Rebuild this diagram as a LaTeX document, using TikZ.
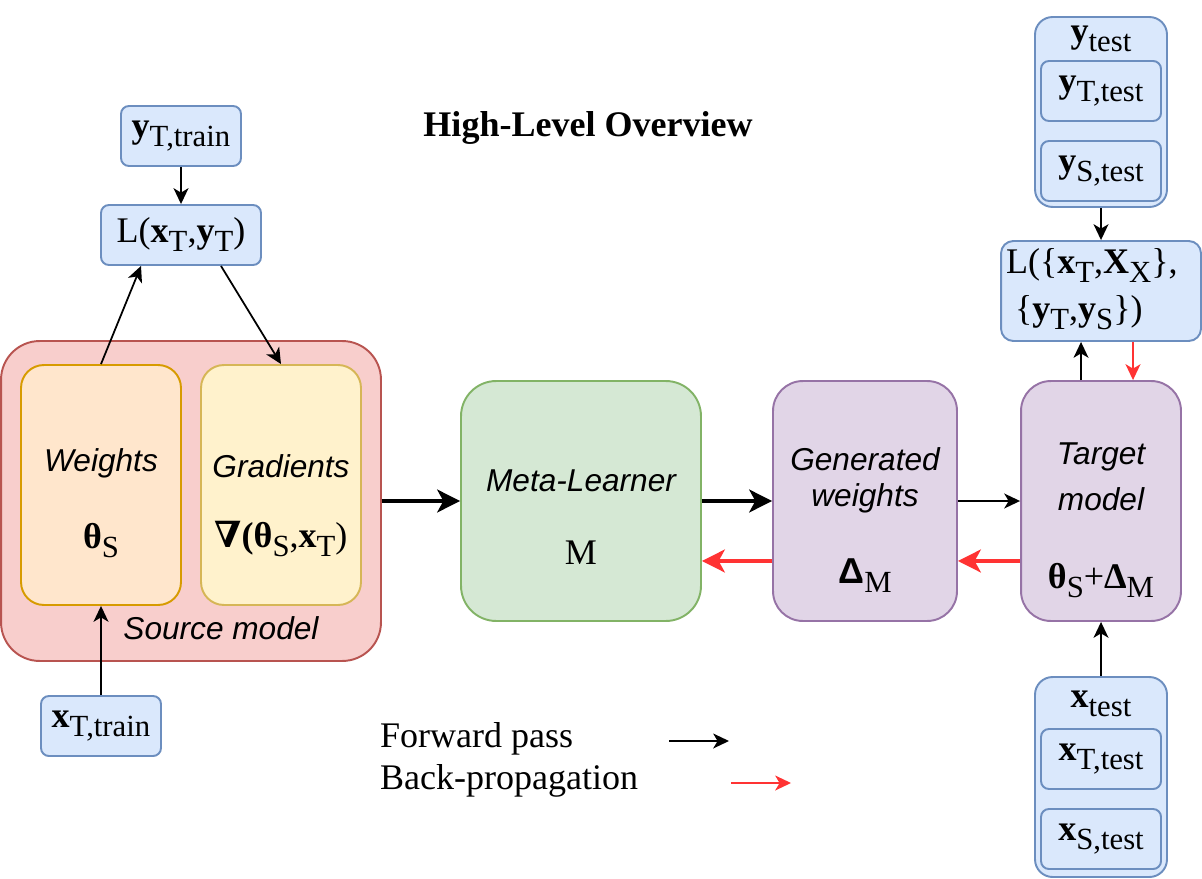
\documentclass[tikz,border=0pt]{standalone}
\usepackage{fontspec}
\setmainfont{Liberation Serif}
\setsansfont{Liberation Sans}
\newfontfamily\symfont{DejaVu Serif}
\usetikzlibrary{arrows.meta}

\definecolor{blueF}{HTML}{DAE8FC}
\definecolor{blueD}{HTML}{6C8EBF}
\definecolor{redF}{HTML}{F8CECC}
\definecolor{redD}{HTML}{B85450}
\definecolor{orangeF}{HTML}{FFE6CC}
\definecolor{orangeD}{HTML}{D79B00}
\definecolor{yellowF}{HTML}{FFF2CC}
\definecolor{yellowD}{HTML}{D6B656}
\definecolor{greenF}{HTML}{D5E8D4}
\definecolor{greenD}{HTML}{82B366}
\definecolor{purpleF}{HTML}{E1D5E7}
\definecolor{purpleD}{HTML}{9673A6}
\definecolor{backred}{HTML}{FF3333}

\newcommand\lsub[1]{\raisebox{-0.25em}{\fontsize{17.5}{17.5}\selectfont #1}}
\newcommand\itx{\fontsize{18}{22}\selectfont\sffamily\itshape}
\newcommand\rmx{\fontsize{20.5}{24}\selectfont}

\begin{document}
\begin{tikzpicture}[x=0.02cm,y=-0.02cm,
  inbox/.style={draw=blueD,fill=blueF,line width=1.1pt,rounded corners=4.5pt,
    minimum width=2.4cm,minimum height=1.2cm,inner sep=0pt,font=\rmx},
  fwd/.style={line width=1pt,-{Stealth[length=9pt,width=8.5pt,inset=2.5pt]}},
  fwdthick/.style={line width=2.2pt,-{Stealth[length=13pt,width=13pt,inset=3.5pt]}},
  bwd/.style={draw=backred,line width=1pt,-{Stealth[length=9pt,width=8.5pt,inset=2.5pt]}},
  bwdthick/.style={draw=backred,line width=2.2pt,-{Stealth[length=13pt,width=13pt,inset=3.5pt]}},
  itlabel/.style={font=\itx,inner sep=1pt},
  rmlabel/.style={font=\rmx,inner sep=1pt}]
\useasboundingbox (0,0) rectangle (1202,878);

\node [font=\rmx\bfseries] (title) at (588,128) {High-Level Overview};

% Source side
\node [inbox] (ytrain) at (181,136) {\textbf{y}\lsub{T,train}};
\node [inbox,minimum width=3.2cm] (lossS) at (181,235) {L(\textbf{x}\lsub{T},\textbf{y}\lsub{T})};
\node [draw=redD,fill=redF,line width=1.1pt,rounded corners=22pt,
  minimum width=7.6cm,minimum height=6.4cm] (source) at (191,501) {};
\node [draw=orangeD,fill=orangeF,line width=1.1pt,rounded corners=13pt,
  minimum width=3.2cm,minimum height=4.8cm] (weights) at (101,485) {};
\node [draw=yellowD,fill=yellowF,line width=1.1pt,rounded corners=13pt,
  minimum width=3.2cm,minimum height=4.8cm] (grads) at (281,485) {};
\node [itlabel] (weightsT) at (101,463) {Weights};
\node [rmlabel] (weightsM) at (101,541) {\textbf{θ}\lsub{S}};
\node [itlabel] (gradsT) at (281,466) {Gradients};
\node [rmlabel] (gradsM) at (281,539) {{\symfont\bfseries ∇}\textbf{(θ}\lsub{S},\textbf{x}\lsub{T})};
\node [itlabel] (sourceT) at (221,628) {Source model};
\node [inbox] (xtrain) at (101,726) {\textbf{x}\lsub{T,train}};

% Meta-learner and generated weights
\node [draw=greenD,fill=greenF,line width=1.1pt,rounded corners=20pt,
  minimum width=4.8cm,minimum height=4.8cm] (meta) at (581,501) {};
\node [itlabel] (metaT) at (581,481) {Meta-Learner};
\node [rmlabel] (metaM) at (581,553) {M};
\node [draw=purpleD,fill=purpleF,line width=1.1pt,rounded corners=17pt,
  minimum width=3.68cm,minimum height=4.8cm] (gen) at (865,501) {};
\node [itlabel] (genT1) at (865,459) {Generated};
\node [itlabel] (genT2) at (865,498) {weights};
\node [rmlabel] (genM) at (865,576) {{\sffamily\bfseries Δ}\lsub{M}};

% Target side
\node [draw=purpleD,fill=purpleF,line width=1.1pt,rounded corners=17pt,
  minimum width=3.2cm,minimum height=4.8cm] (target) at (1101,501) {};
\node [itlabel] (targetT1) at (1101,457) {Target};
\node [itlabel] (targetT2) at (1101,499) {model};
\node [rmlabel] (targetM) at (1101,581) {\textbf{θ}\lsub{S}+\textbf{Δ}\lsub{M}};

\node [inbox,rounded corners=7pt,minimum width=4cm,minimum height=2cm] (lossT) at (1101,291) {};
\node [rmlabel,anchor=west] (lossT1) at (1004,266) {L(\{\textbf{x}\lsub{T},\textbf{X}\lsub{X}\},};
\node [rmlabel,anchor=west] (lossT2) at (1013,313) {\{\textbf{y}\lsub{T},\textbf{y}\lsub{S}\})};

\node [inbox,rounded corners=10pt,minimum width=2.64cm,minimum height=3.8cm] (ytest) at (1101,112) {};
\node [rmlabel] (ytestT) at (1101,39) {\textbf{y}\lsub{test}};
\node [inbox] (yTtest) at (1101,91) {\textbf{y}\lsub{T,test}};
\node [inbox] (yStest) at (1101,171) {\textbf{y}\lsub{S,test}};

\node [inbox,rounded corners=10pt,minimum width=2.64cm,minimum height=4cm] (xtest) at (1101,777) {};
\node [rmlabel] (xtestT) at (1101,704) {\textbf{x}\lsub{test}};
\node [inbox] (xTtest) at (1101,759) {\textbf{x}\lsub{T,test}};
\node [inbox] (xStest) at (1101,839) {\textbf{x}\lsub{S,test}};

% Legend
\node [rmlabel,anchor=west] (legF) at (378,739) {Forward pass};
\node [rmlabel,anchor=west] (legB) at (378,781) {Back-propagation};
\coordinate (fw1) at (669,741);
\coordinate (fw2) at (729,741);
\coordinate (bp1) at (731,783);
\coordinate (bp2) at (791,783);

% Connectors
\draw [fwd] (ytrain) -- (lossS);
\draw [fwd] (weights.north) -- ([xshift=-0.8cm]lossS.south);
\draw [fwd] ([xshift=0.8cm]lossS.south) -- (grads.north);
\draw [fwd] (xtrain) -- (weights);
\draw [fwdthick] (source.east) -- (meta.west);
\draw [fwdthick] (meta.east) -- (gen.west);
\draw [bwdthick] ([yshift=-1.2cm]gen.west) -- ([yshift=-1.2cm]meta.east);
\draw [fwd] (gen.east) -- (target.west);
\draw [bwdthick] ([yshift=-1.2cm]target.west) -- ([yshift=-1.2cm]gen.east);
\draw [fwd] ([xshift=-0.4cm]target.north) -- ([xshift=-0.4cm]lossT.south);
\draw [bwd] ([xshift=0.64cm]lossT.south) -- ([xshift=0.64cm]target.north);
\draw [fwd] (ytest) -- (lossT);
\draw [fwd] (xtest) -- (target);
\draw [fwd] (fw1) -- (fw2);
\draw [bwd] (bp1) -- (bp2);

\end{tikzpicture}
\end{document}
